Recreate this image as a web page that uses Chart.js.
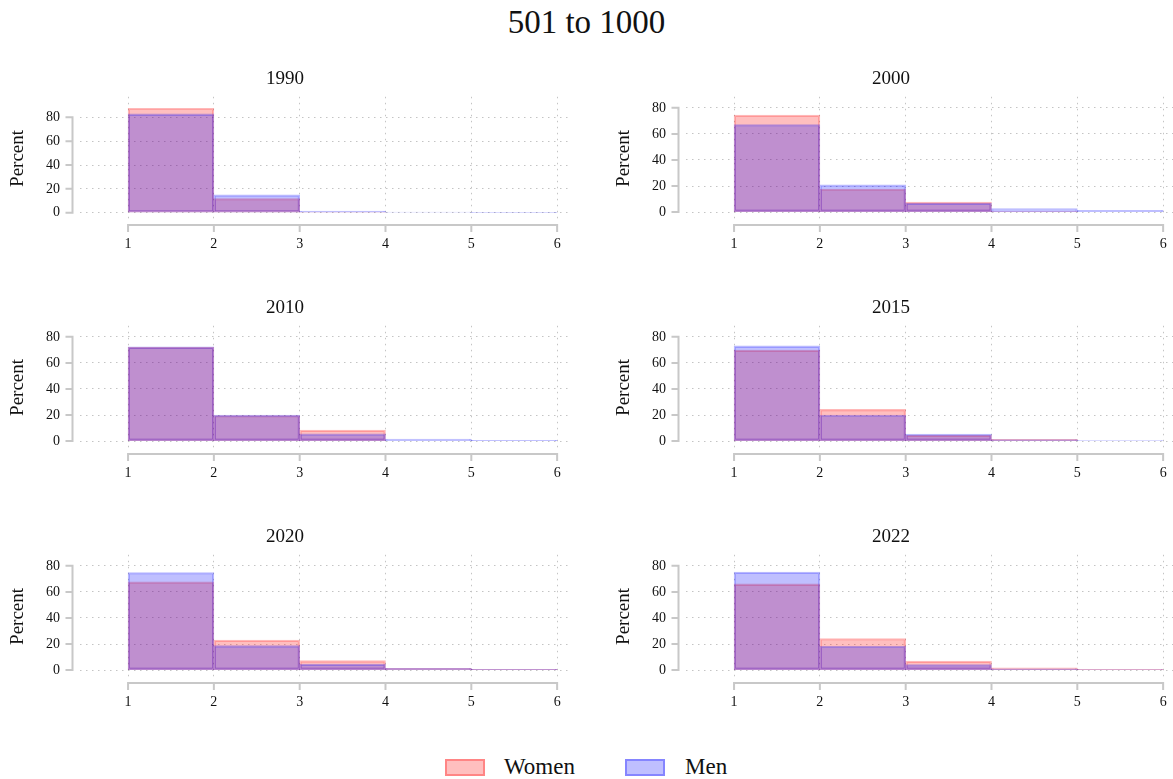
<!DOCTYPE html>
<html>
<head>
<meta charset="utf-8">
<script src="https://cdn.jsdelivr.net/npm/chart.js@4.4.1/dist/chart.umd.min.js"></script>
<style>
html,body{margin:0;padding:0;width:1173px;height:779px;overflow:hidden;background:#fff;}
#title{position:absolute;left:0;top:5px;width:1173px;text-align:center;font:33px 'Liberation Serif',serif;line-height:34px;color:#111;}
.panel{position:absolute;width:606px;height:229px;}
.lgbox{position:absolute;top:759px;width:40px;height:17px;box-sizing:border-box;border:2px solid;}
.lgtxt{position:absolute;top:753px;font:23px 'Liberation Serif',serif;line-height:28px;color:#111;}
</style>
</head>
<body>
<div id="title">501 to 1000</div>
<div id="panels"></div>
<div class="lgbox" style="left:445px;background:rgba(255,0,0,0.25);border-color:rgba(255,0,0,0.3);"></div>
<div class="lgtxt" style="left:504px;">Women</div>
<div class="lgbox" style="left:625px;background:rgba(0,0,255,0.25);border-color:rgba(0,0,255,0.3);"></div>
<div class="lgtxt" style="left:685px;">Men</div>
<script>
// ---- data ----
const binEdges = [1, 2, 3, 4, 5, 6];
const yTicks = [0, 20, 40, 60, 80];
const years = ['1990', '2000', '2010', '2015', '2020', '2022'];

const women1990 = [87.6, 11.9, 0.5, 0.0, 0.0];
const men1990   = [82.9, 15.1, 1.3, 0.5, 0.2];
const women2000 = [74.4, 17.7, 7.7, 0.2, 0.0];
const men2000   = [67.2, 21.0, 6.9, 2.6, 1.3];
const women2010 = [72.0, 19.6, 8.4, 0.0, 0.0];
const men2010   = [72.3, 20.0, 5.6, 1.5, 0.6];
const women2015 = [69.8, 24.3, 4.5, 1.3, 0.0];
const men2015   = [73.1, 20.0, 5.4, 1.2, 0.4];
const women2020 = [67.8, 23.0, 7.2, 1.3, 0.5];
const men2020   = [74.9, 18.7, 4.6, 1.3, 0.5];
const women2022 = [66.2, 24.2, 6.9, 1.8, 0.5];
const men2022   = [75.2, 18.3, 4.3, 0.9, 0.3];

const womenByYear = [women1990, women2000, women2010, women2015, women2020, women2022];
const menByYear   = [men1990, men2000, men2010, men2015, men2020, men2022];
const yMaxes = [97.2, 88.5, 88.5, 88.5, 88.5, 88.5];
const yMin = -6.1;

// ---- helpers ----
const FONT = "'Liberation Serif', serif";
const binCenters = binEdges.slice(0, -1).map((e, i) => (e + binEdges[i + 1]) / 2);
const toPoints = vals => vals.map((v, i) => ({x: binCenters[i], y: v}));

const spinePlugin = {
  id: 'spines',
  afterDraw(chart) {
    const {ctx, chartArea, scales: {x, y}} = chart;
    ctx.save();
    ctx.strokeStyle = '#c8c8c8';
    ctx.lineWidth = 2;
    ctx.lineCap = 'square';
    ctx.beginPath();
    const sx = chartArea.left - 7.5;
    ctx.moveTo(sx, y.getPixelForValue(yTicks[0]));
    ctx.lineTo(sx, y.getPixelForValue(yTicks[yTicks.length - 1]));
    yTicks.forEach(v => {
      const py = y.getPixelForValue(v);
      ctx.moveTo(sx, py); ctx.lineTo(sx - 6, py);
    });
    const sy = chartArea.bottom + 5;
    ctx.moveTo(x.getPixelForValue(binEdges[0]), sy);
    ctx.lineTo(x.getPixelForValue(binEdges[binEdges.length - 1]), sy);
    binEdges.forEach(v => {
      const px = x.getPixelForValue(v);
      ctx.moveTo(px, sy); ctx.lineTo(px, sy + 6);
    });
    ctx.stroke();
    ctx.restore();
  }
};

const container = document.getElementById('panels');
years.forEach((yr, i) => {
  const col = i % 2, row = Math.floor(i / 2);
  const div = document.createElement('div');
  div.className = 'panel';
  div.style.left = (col * 606) + 'px';
  div.style.top = (60 + row * 229) + 'px';
  const cv = document.createElement('canvas');
  cv.width = 606; cv.height = 229;
  div.appendChild(cv);
  container.appendChild(div);

  new Chart(cv, {
    type: 'bar',
    data: {
      datasets: [
        {
          label: 'Women',
          data: toPoints(womenByYear[i]),
          backgroundColor: 'rgba(255,0,0,0.25)',
          borderColor: 'rgba(255,0,0,0.28)',
          borderWidth: 1.5,
          borderSkipped: false,
          order: 2
        },
        {
          label: 'Men',
          data: toPoints(menByYear[i]),
          backgroundColor: 'rgba(0,0,255,0.25)',
          borderColor: 'rgba(0,0,255,0.28)',
          borderWidth: 1.5,
          borderSkipped: false,
          order: 1
        }
      ]
    },
    options: {
      responsive: false,
      animation: false,
      devicePixelRatio: 1,
      grouped: false,
      barPercentage: 1,
      categoryPercentage: 1,
      layout: {padding: {left: 0, right: 36, top: 0, bottom: 0}},
      plugins: {
        legend: {display: false},
        tooltip: {enabled: false},
        title: {
          display: true,
          text: yr,
          color: '#111',
          font: {family: FONT, size: 19, weight: 'normal'},
          padding: {top: 8, bottom: 6}
        }
      },
      scales: {
        x: {
          type: 'linear',
          offset: false,
          min: 0.44,
          max: 6.15,
          afterBuildTicks: s => { s.ticks = binEdges.map(v => ({value: v})); },
          afterFit: s => { s.height = 69; },
          grid: {offset: false, color: '#c4c4c4', lineWidth: 1, drawTicks: true, tickLength: 13, tickColor: 'rgba(0,0,0,0)'},
          border: {display: false, dash: [1.5, 4.5]},
          ticks: {color: '#111', font: {family: FONT, size: 14}, padding: 3, maxRotation: 0, callback: v => String(v)}
        },
        y: {
          min: yMin,
          max: yMaxes[i],
          afterBuildTicks: s => { s.ticks = yTicks.map(v => ({value: v})); },
          afterFit: s => { s.width = 80; },
          grid: {color: '#c4c4c4', lineWidth: 1, drawTicks: true, tickLength: 14, tickColor: 'rgba(0,0,0,0)'},
          border: {display: false, dash: [1.5, 4.5]},
          ticks: {color: '#111', font: {family: FONT, size: 14}, padding: 6, callback: v => String(v)},
          title: {display: true, text: 'Percent', color: '#111', font: {family: FONT, size: 19}, padding: {top: 7, bottom: 0}}
        }
      }
    },
    plugins: [spinePlugin]
  });
});
</script>
</body>
</html>
